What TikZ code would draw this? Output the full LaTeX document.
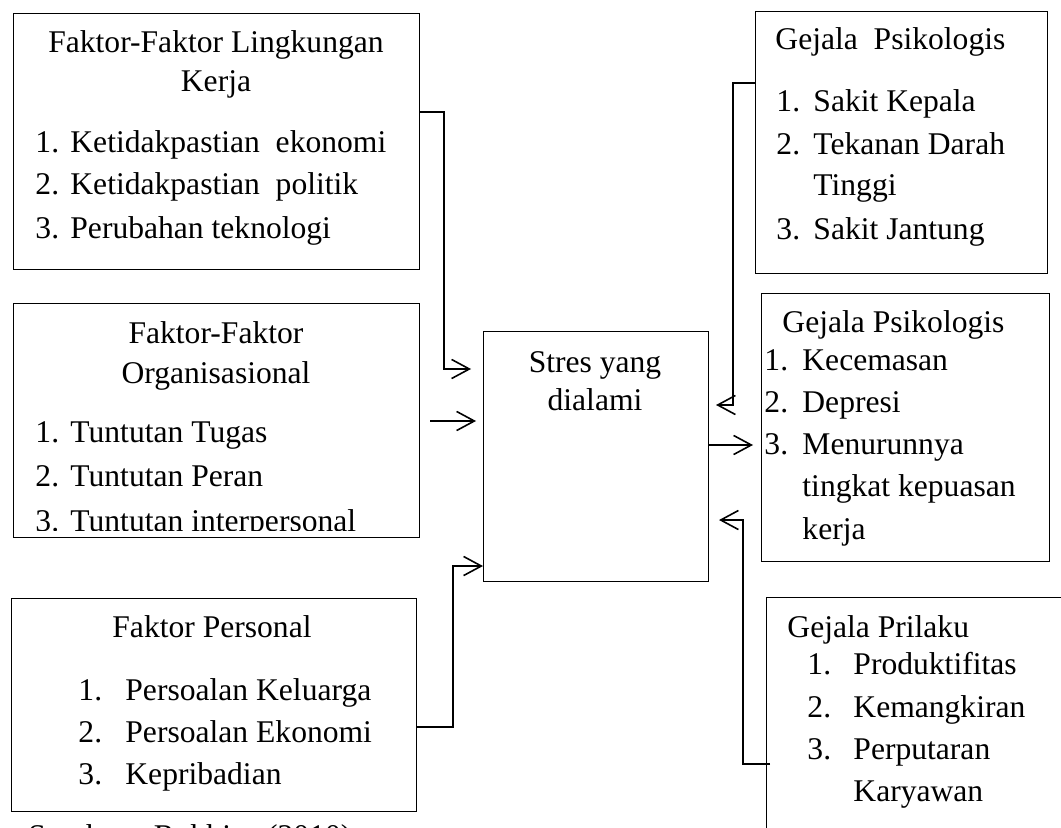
\documentclass[tikz,border=0pt]{standalone}
\usepackage{fontspec}
\setmainfont{Liberation Serif}
\usepackage{tikz}
\usetikzlibrary{arrows.meta}

\newcommand{\pxu}{0.44pt}
\newlength{\pxlen}
\setlength{\pxlen}{0.44pt}
\tikzset{
	box/.style={draw, line width=0.45pt, inner sep=0pt, anchor=north west},
	txt/.style={anchor=base west, inner sep=0pt, font=\fontsize{13.9}{16}\selectfont},
	ctxt/.style={anchor=base, inner sep=0pt, font=\fontsize{13.9}{16}\selectfont},
	link/.style={line width=0.7pt, -{Straight Barb[length=7.8pt,width=8.4pt,line width=0.7pt]}}
}
\newcommand{\numl}[2]{\makebox[#1\pxlen][l]{#2}}

\begin{document}
\begin{tikzpicture}[x=\pxu, y=-\pxu]
\useasboundingbox (0,0) rectangle (1061,828);
\node[box, minimum width=406*\pxu, minimum height=256*\pxu] (0) at (13, 13) {};
\node[box, minimum width=406*\pxu, minimum height=234*\pxu] (1) at (13, 303) {};
\node[box, minimum width=405*\pxu, minimum height=213*\pxu] (2) at (11, 598) {};
\node[box, minimum width=225*\pxu, minimum height=250*\pxu] (3) at (483, 331) {};
\node[box, minimum width=292*\pxu, minimum height=262*\pxu] (4) at (755, 11) {};
\node[box, minimum width=288*\pxu, minimum height=268*\pxu] (5) at (761, 293) {};
\node[box, minimum width=340*\pxu, minimum height=300*\pxu] (6) at (766, 597) {};
\node[ctxt] (7) at (216, 53) {Faktor-Faktor Lingkungan};
\node[ctxt] (8) at (216, 92) {Kerja};
\node[txt] (9) at (35, 153) {\numl{35}{1.}Ketidakpastian\ \ ekonomi};
\node[txt] (10) at (35, 195) {\numl{35}{2.}Ketidakpastian\ \ politik};
\node[txt] (11) at (35, 238) {\numl{35}{3.}Perubahan teknologi};
\node[ctxt] (12) at (216, 343) {Faktor-Faktor};
\node[ctxt] (13) at (216, 383) {Organisasional};
\node[txt] (14) at (35, 442) {\numl{35}{1.}Tuntutan Tugas};
\node[txt] (15) at (35, 486) {\numl{35}{2.}Tuntutan Peran};
\begin{scope}
\clip (13, 303) rectangle (419, 530);
\node[txt] (16) at (35, 531) {\numl{35}{3.}Tuntutan interpersonal};
\end{scope}
\node[ctxt] (17) at (212, 637) {Faktor Personal};
\node[txt] (18) at (78, 700) {\numl{47}{1.}Persoalan Keluarga};
\node[txt] (19) at (78, 742) {\numl{47}{2.}Persoalan Ekonomi};
\node[txt] (20) at (78, 784) {\numl{47}{3.}Kepribadian};
\node[ctxt] (21) at (595, 372) {Stres yang};
\node[ctxt] (22) at (595, 410) {dialami};
\node[txt] (23) at (775, 50) {Gejala\ \ Psikologis};
\node[txt] (24) at (776, 112) {\numl{37}{1.}Sakit Kepala};
\node[txt] (25) at (776, 155) {\numl{37}{2.}Tekanan Darah};
\node[txt] (26) at (813, 196) {Tinggi};
\node[txt] (27) at (776, 240) {\numl{37}{3.}Sakit Jantung};
\node[txt] (28) at (782, 332) {Gejala Psikologis};
\node[txt] (29) at (764, 370) {\numl{38}{1.}Kecemasan};
\node[txt] (30) at (764, 412) {\numl{38}{2.}Depresi};
\node[txt] (31) at (764, 454) {\numl{38}{3.}Menurunnya};
\node[txt] (32) at (802, 496) {tingkat kepuasan};
\node[txt] (33) at (802, 539) {kerja};
\node[txt] (34) at (787, 637) {Gejala Prilaku};
\node[txt] (35) at (807, 674) {\numl{46}{1.}Produktifitas};
\node[txt] (36) at (807, 717) {\numl{46}{2.}Kemangkiran};
\node[txt] (37) at (807, 759) {\numl{46}{3.}Perputaran};
\node[txt] (38) at (853, 801) {Karyawan};
\node[txt] (39) at (28, 846) {Sumber : Robbins (2010)};
\draw[link] ([yshift=-99*\pxu]0.north east) -- ++(24, 0) |- ([xshift=-12*\pxu,yshift=-38*\pxu]3.north west);
\draw[link] ([xshift=10*\pxu,yshift=-118*\pxu]1.north east) -- ([xshift=-7*\pxu,yshift=-90*\pxu]3.north west);
\draw[link] ([yshift=-129*\pxu]2.north east) -- ++(36, 0) |- ([yshift=16*\pxu]3.south west);
\draw[link] ([yshift=-72*\pxu]4.north west) -- ++(-22, 0) |- ([xshift=7*\pxu,yshift=-74*\pxu]3.north east);
\draw[link] ([yshift=-114*\pxu]3.north east) -- ([xshift=-8*\pxu,yshift=-152*\pxu]5.north west);
\draw[link] ([xshift=4*\pxu,yshift=-167*\pxu]6.north west) -- ++(-27, 0) |- ([xshift=10*\pxu,yshift=62*\pxu]3.south east);
\end{tikzpicture}
\end{document}
